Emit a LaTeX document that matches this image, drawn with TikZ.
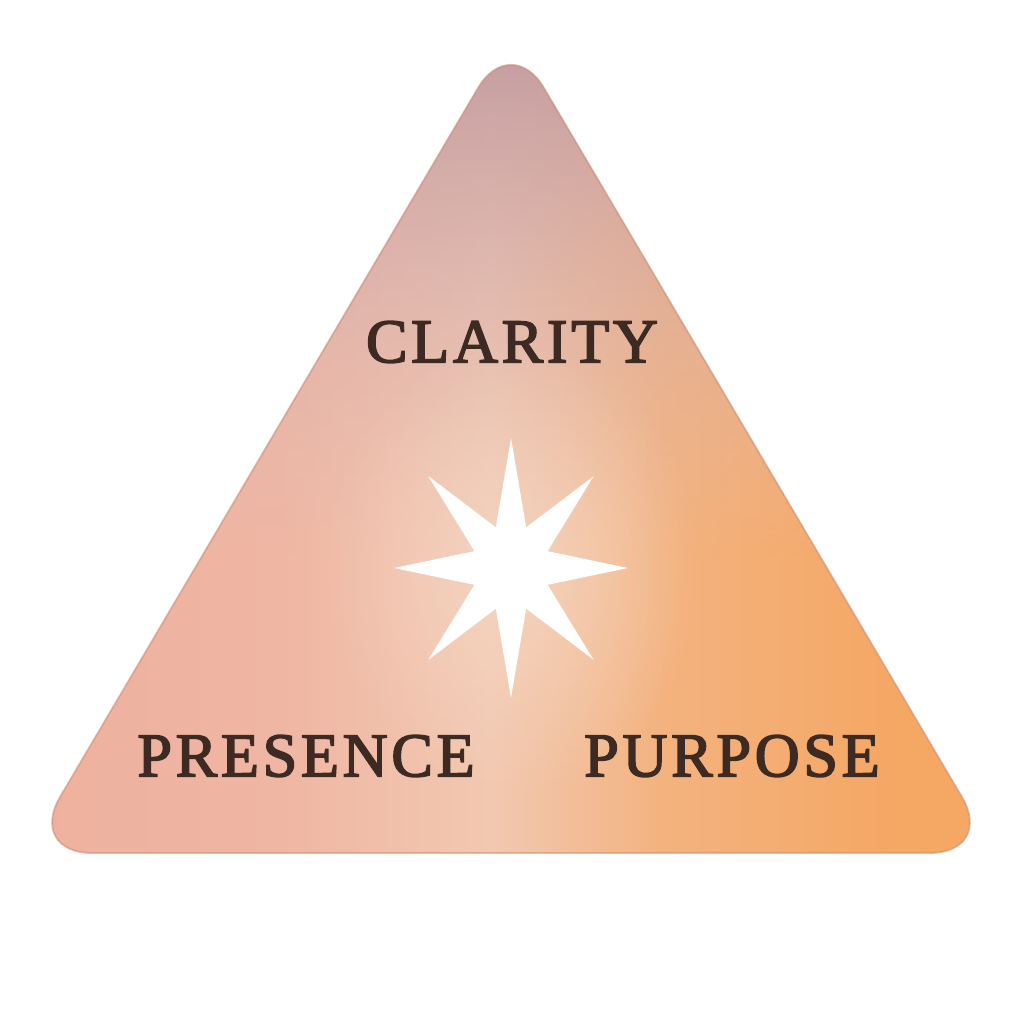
\documentclass[tikz,border=0pt]{standalone}
\usepackage{fontspec}
\setmainfont{Liberation Serif}
\newfontfamily\labelfont[LetterSpace=6,FakeBold=2.6]{Liberation Serif}
\usetikzlibrary{fadings}
\definecolor{mauve}{HTML}{C29BA0}
\definecolor{blush}{HTML}{E1BEBC}
\definecolor{salmon}{HTML}{ECA795}
\definecolor{rose}{HTML}{EFB6A3}
\definecolor{apricot}{HTML}{F5A764}
\definecolor{tan}{HTML}{F3B27E}
\definecolor{peach}{HTML}{F2C8B0}
\definecolor{glow}{HTML}{F5D8C6}
\definecolor{ink}{HTML}{3D2A22}
\definecolor{rim}{HTML}{C98A72}
\pgfdeclarehorizontalshading{wash}{100bp}{color(0bp)=(salmon); color(38bp)=(rose); color(49bp)=(peach); color(58bp)=(tan); color(70bp)=(apricot); color(100bp)=(apricot)}
\tikzfading[name=fade down, top color=transparent!0, middle color=transparent!5, bottom color=transparent!100]
\tikzfading[name=soft glow, inner color=transparent!0, outer color=transparent!100]
\begin{document}
\begin{tikzpicture}[word/.style={font=\labelfont\fontsize{17.7}{20}\selectfont,text=ink,inner sep=0pt},
  edge line/.style={draw=rim,line width=0.5pt,opacity=0.55,rounded corners=0.65cm}]
\useasboundingbox (0,0) rectangle (10.24,10.24);
\coordinate (top) at (5.11,9.92);
\coordinate (left) at (0.27,1.71);
\coordinate (right) at (9.95,1.71);
\coordinate (core) at (5.11,4.56);
% watercolour wash
\begin{scope}
\clip[rounded corners=0.65cm] (top) -- (left) -- (right) -- cycle;
\shade[shading=wash] (left) rectangle (9.95,9.92);
\shade[top color=mauve,bottom color=blush,path fading=fade down] (0.27,4.7) rectangle (9.95,9.92);
\fill[glow,opacity=0.75,path fading=soft glow] (core) ellipse (1.9 and 2.3);
\end{scope}
\path[edge line] (top) -- (left) -- (right) -- cycle;
% star
\begin{scope}[shift={(core)},xscale=0.9]
\fill[white] (90:1.3) \foreach \k in {0,...,7} { -- ({112.5+45*\k}:0.44) -- ({135+45*\k}:1.3) } -- cycle;
\end{scope}
\node[word] (clarity) at (5.12,6.82) {CLARITY};
\node[word] (presence) at (3.06,2.68) {PRESENCE};
\node[word] (purpose) at (7.32,2.68) {PURPOSE};
\end{tikzpicture}
\end{document}
